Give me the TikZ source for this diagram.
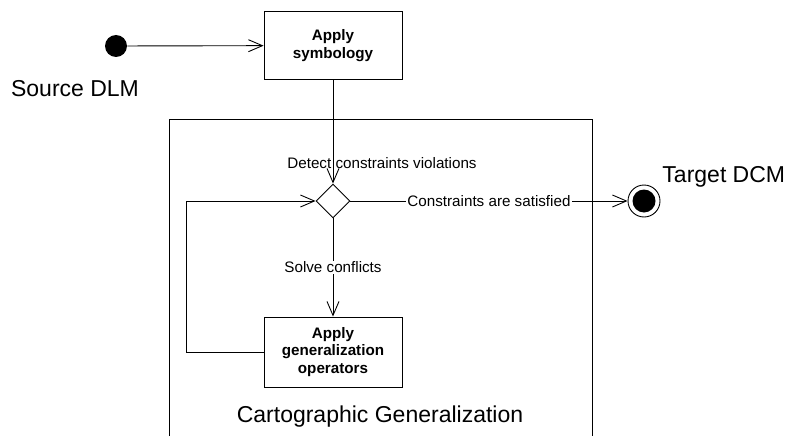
\documentclass[tikz,border=0pt]{standalone}
\usepackage{fontspec}
\setmainfont{Liberation Sans}
\usetikzlibrary{shapes.geometric,arrows.meta}
\begin{document}
\begin{tikzpicture}[x=1pt,y=-1pt,line width=0.9pt,
  flow/.style={-{Straight Barb[length=14pt,width=12pt,line width=0.9pt]}},
  actbox/.style={draw,rectangle,minimum width=138pt,minimum height=68pt,align=center,font=\fontsize{15.2}{17.5}\selectfont\bfseries,inner sep=2pt},
  lbl/.style={font=\fontsize{15.2}{17}\selectfont,inner sep=1pt},
  big/.style={font=\fontsize{23}{26}\selectfont,inner sep=0pt}]
\useasboundingbox (0,0) rectangle (789,436);
\fill[white] (0,0) rectangle (789,436);
% frame
\draw (169,436) -- (169,119) -- (592,119) -- (592,436);
% nodes
\node[circle,fill=black,minimum size=22pt,inner sep=0pt] (start) at (116,46) {};
\node[big] (srclbl) at (75,89) {Source DLM};
\node[actbox] (sym) at (333,45.5) {Apply\\symbology};
\node[draw,diamond,minimum width=34pt,minimum height=34pt,inner sep=0pt] (dec) at (333,201) {};
\node[circle,draw,minimum size=32pt,inner sep=0pt] (target) at (644,201) {};
\node[circle,fill=black,minimum size=23pt,inner sep=0pt] (targetin) at (644,201) {};
\node[big,anchor=west] (tgtlbl) at (662,177) {Target DCM};
\node[actbox,minimum height=70pt] (gen) at (333,352) {Apply\\generalization\\operators};
\node[big] (cglbl) at (380,417) {Cartographic Generalization};
\node[lbl] (detect) at (382,163) {Detect constraints violations};
% connectors
\draw[flow] (start) -- (sym);
\draw[flow] (sym.south) -- (dec.north);
\draw[flow] (dec.east) -- node[lbl,fill=white,pos=0.5]{Constraints are satisfied} (target.west);
\draw[flow] (dec.south) -- node[lbl,fill=white,pos=0.5]{Solve conflicts} (gen.north);
\draw[flow] (gen.west) -- ++(-77,0) |- (dec.west);
\end{tikzpicture}
\end{document}
